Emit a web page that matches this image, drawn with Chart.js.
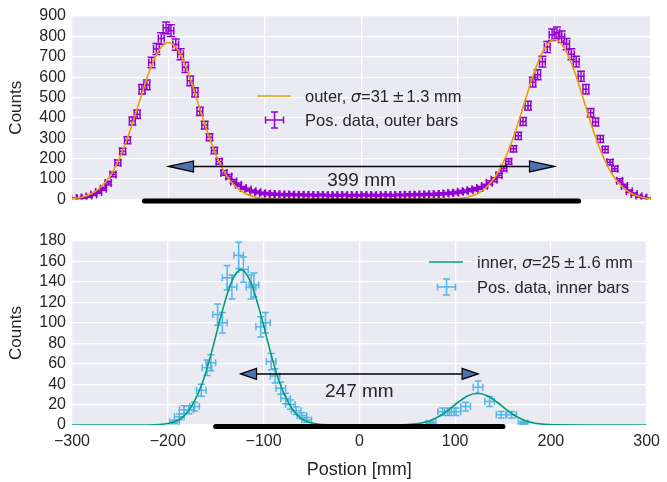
<!DOCTYPE html>
<html>
<head>
<meta charset="utf-8">
<script src="https://cdn.jsdelivr.net/npm/chart.js@4.4.1/dist/chart.umd.min.js"></script>
<style>
  body { margin: 0; background: #fff; }
  canvas { position: absolute; left: 0; }
  #chart-outer { top: 0; }
  #chart-inner { top: 225px; }
</style>
</head>
<body>
<canvas id="chart-outer" width="667" height="215"></canvas>
<canvas id="chart-inner" width="667" height="257"></canvas>
<script>
// ---- data ----
const outerPos = [
  -297.5, -292.5, -287.5, -282.5, -277.5, -272.5, -267.5, -262.5, -257.5, -252.5,
  -247.5, -242.5, -237.5, -232.5, -227.5, -222.5, -217.5, -212.5, -207.5, -202.5,
  -197.5, -192.5, -187.5, -182.5, -177.5, -172.5, -167.5, -162.5, -157.5, -152.5,
  -147.5, -142.5, -137.5, -132.5, -127.5, -122.5, -117.5, -112.5, -107.5, -102.5,
  -97.5, -92.5, -87.5, -82.5, -77.5, -72.5, -67.5, -62.5, -57.5, -52.5,
  -47.5, -42.5, -37.5, -32.5, -27.5, -22.5, -17.5, -12.5, -7.5, -2.5,
  2.5, 7.5, 12.5, 17.5, 22.5, 27.5, 32.5, 37.5, 42.5, 47.5,
  52.5, 57.5, 62.5, 67.5, 72.5, 77.5, 82.5, 87.5, 92.5, 97.5,
  102.5, 107.5, 112.5, 117.5, 122.5, 127.5, 132.5, 137.5, 142.5, 147.5,
  152.5, 157.5, 162.5, 167.5, 172.5, 177.5, 182.5, 187.5, 192.5, 197.5,
  202.5, 207.5, 212.5, 217.5, 222.5, 227.5, 232.5, 237.5, 242.5, 247.5,
  252.5, 257.5, 262.5, 267.5, 272.5, 277.5, 282.5, 287.5, 292.5, 297.5,
];
const outerCounts = [
  5, 6, 9, 14, 24, 36, 52, 80, 122, 180,
  236, 290, 385, 418, 540, 562, 672, 738, 790, 842,
  828, 760, 712, 648, 582, 525, 432, 365, 305, 240,
  186, 130, 112, 88, 72, 56, 48, 40, 35, 30,
  28, 26, 25, 24, 23, 24, 22, 23, 21, 22,
  20, 22, 21, 19, 21, 20, 22, 19, 21, 20,
  22, 20, 21, 19, 22, 21, 20, 22, 21, 23,
  22, 24, 23, 25, 24, 26, 27, 29, 31, 33,
  37, 40, 45, 50, 56, 66, 82, 96, 118, 152,
  186, 248, 312, 382, 460, 575, 612, 676, 748, 808,
  818, 798, 762, 712, 676, 604, 540, 425, 380, 296,
  245, 182, 150, 92, 66, 40, 26, 15, 9, 5,
];
const outerFitPos = [
  -300, -290, -280, -270, -260, -250, -240, -230, -220, -210,
  -200, -190, -180, -170, -160, -150, -140, -130, -120, -110,
  -100, -90, -80, -40, 0, 40, 80, 90, 100, 110,
  120, 130, 140, 150, 160, 170, 180, 190, 200, 210,
  220, 230, 240, 250, 260, 270, 280, 290, 300,
];
const outerFitCounts = [
  4, 11, 28, 61, 118, 210, 335, 482, 626, 731,
  770, 731, 626, 482, 335, 210, 118, 61, 28, 11,
  4, 1, 0, 0, 0, 0, 0, 1, 4, 11,
  28, 62, 121, 214, 341, 491, 637, 745, 785, 745,
  637, 491, 341, 214, 121, 62, 28, 11, 4,
];

const innerPos = [
  -193, -188, -183, -178, -172, -165, -159, -155, -148, -143,
  -138, -133, -126, -121, -113, -110, -103, -98, -92, -88,
  -82, -77, -72, -66, -60, -55,
  75, 87, 94, 101, 111, 124, 136, 148, 159, 171,
];
const innerCounts = [
  3, 8, 15, 15, 18, 34, 56, 61, 108, 100,
  144, 135, 166, 152, 135, 137, 96, 100, 62, 48,
  36, 26, 20, 14, 9, 5,
  2, 13, 13, 13, 18, 37, 23, 10, 10, 2,
];
const innerFitPos = [
  -300, -250, -213.5, -203.5, -193.5, -183.5, -173.5, -163.5, -153.5, -143.5,
  -133.5, -123.5, -113.5, -103.5, -93.5, -83.5, -73.5, -63.5, -53.5, -43.5,
  -33.5, 0, 33.5, 43.5, 53.5, 63.5, 73.5, 83.5, 93.5, 103.5,
  113.5, 123.5, 133.5, 143.5, 153.5, 163.5, 173.5, 183.5, 193.5, 203.5,
  250, 300,
];
const innerFitCounts = [
  0, 0, 0.3, 1, 3, 8.5, 21, 42, 74, 110,
  140, 152, 140, 110, 74, 42, 21, 8.5, 3, 1,
  0.3, 0, 0, 0.2, 0.6, 1.7, 4.2, 8.6, 15, 22.5,
  28.6, 31, 28.6, 22.5, 15, 8.6, 4.2, 1.7, 0.6, 0.2,
  0, 0,
];

const outerTicks = [0, 100, 200, 300, 400, 500, 600, 700, 800, 900];
const innerTicks = [0, 20, 40, 60, 80, 100, 120, 140, 160, 180];

const textColor = "#262626";
const font = "Liberation Sans, Arial, sans-serif";

const toPoints = (xs, ys) => xs.map((x, i) => ({ x: x, y: ys[i] }));
const minusFmt = (v) => (v < 0 ? "\u2212" + Math.abs(v) : String(v));

// background of the axes
const axesBg = {
  id: "axesBg",
  beforeDraw(chart) {
    const { ctx, chartArea: a } = chart;
    ctx.save();
    ctx.fillStyle = "#eaeaf2";
    ctx.fillRect(a.left, a.top, a.right - a.left, a.bottom - a.top);
    ctx.restore();
  },
};

// error bars for the data set, poisson errors sqrt(N)
const errorBars = {
  id: "errorBars",
  beforeDatasetsDraw(chart, args, opts) {
    const ds = chart.data.datasets[opts.index];
    const xs = chart.scales.x;
    const ys = chart.scales.y;
    const { ctx, chartArea: a } = chart;
    ctx.save();
    ctx.beginPath();
    ctx.rect(a.left, a.top, a.right - a.left, a.bottom - a.top);
    ctx.clip();
    ctx.strokeStyle = opts.color;
    ctx.lineWidth = 1.5;
    const cap = opts.cap;
    ds.data.forEach((p) => {
      const e = Math.sqrt(p.y);
      const cx = xs.getPixelForValue(p.x);
      const cy = ys.getPixelForValue(p.y);
      const x0 = xs.getPixelForValue(p.x - opts.xerr);
      const x1 = xs.getPixelForValue(p.x + opts.xerr);
      const y0 = ys.getPixelForValue(p.y - e);
      const y1 = ys.getPixelForValue(p.y + e);
      ctx.beginPath();
      ctx.moveTo(cx, y0); ctx.lineTo(cx, y1);
      ctx.moveTo(cx - cap, y0); ctx.lineTo(cx + cap, y0);
      ctx.moveTo(cx - cap, y1); ctx.lineTo(cx + cap, y1);
      ctx.moveTo(x0, cy); ctx.lineTo(x1, cy);
      ctx.moveTo(x0, cy - cap); ctx.lineTo(x0, cy + cap);
      ctx.moveTo(x1, cy - cap); ctx.lineTo(x1, cy + cap);
      ctx.stroke();
    });
    ctx.restore();
  },
};

function drawHead(ctx, tipX, y, dir, len, half) {
  ctx.beginPath();
  ctx.moveTo(tipX, y);
  ctx.lineTo(tipX + dir * len, y - half);
  ctx.lineTo(tipX + dir * len, y + half);
  ctx.closePath();
  ctx.fillStyle = "#4c72b0";
  ctx.fill();
  ctx.lineWidth = 1.2;
  ctx.strokeStyle = "#000";
  ctx.stroke();
}

function drawLegendLabel(ctx, x, y, parts) {
  let cx = x;
  parts.forEach((p) => {
    if (p.gap) { cx += p.gap; return; }
    ctx.font = p.font || "16.5px " + font;
    ctx.fillText(p.t, cx, y);
    cx += ctx.measureText(p.t).width;
  });
}

function drawErrMarker(ctx, cx, cy, color) {
  ctx.strokeStyle = color;
  ctx.lineWidth = 1.5;
  ctx.beginPath();
  ctx.moveTo(cx, cy - 8); ctx.lineTo(cx, cy + 8);
  ctx.moveTo(cx - 3.5, cy - 8); ctx.lineTo(cx + 3.5, cy - 8);
  ctx.moveTo(cx - 3.5, cy + 8); ctx.lineTo(cx + 3.5, cy + 8);
  ctx.moveTo(cx - 9, cy); ctx.lineTo(cx + 9, cy);
  ctx.moveTo(cx - 9, cy - 3.5); ctx.lineTo(cx - 9, cy + 3.5);
  ctx.moveTo(cx + 9, cy - 3.5); ctx.lineTo(cx + 9, cy + 3.5);
  ctx.stroke();
}

// arrows, black bar, text and legend
const annotations = {
  id: "annotations",
  afterDraw(chart, args, o) {
    const { ctx } = chart;
    const xs = chart.scales.x;
    const ys = chart.scales.y;
    ctx.save();
    // black bar
    ctx.strokeStyle = "#000";
    ctx.lineWidth = 5;
    ctx.lineCap = "round";
    ctx.beginPath();
    ctx.moveTo(xs.getPixelForValue(o.bar[0]), ys.getPixelForValue(0) + 1.5);
    ctx.lineTo(xs.getPixelForValue(o.bar[1]), ys.getPixelForValue(0) + 1.5);
    ctx.stroke();
    ctx.lineCap = "butt";
    // arrow
    const ay = ys.getPixelForValue(o.arrowY);
    const ax0 = xs.getPixelForValue(o.arrow[0]);
    const ax1 = xs.getPixelForValue(o.arrow[1]);
    ctx.lineWidth = 1.5;
    ctx.beginPath();
    ctx.moveTo(ax0 + o.headLen, ay);
    ctx.lineTo(ax1 - o.headLen, ay);
    ctx.stroke();
    drawHead(ctx, ax0, ay, 1, o.headLen, o.headHalf);
    drawHead(ctx, ax1, ay, -1, o.headLen, o.headHalf);
    // distance text
    ctx.fillStyle = textColor;
    ctx.font = "19px " + font;
    ctx.textAlign = "center";
    ctx.textBaseline = "alphabetic";
    ctx.fillText(o.label, xs.getPixelForValue(0), ys.getPixelForValue(o.labelY));
    // legend
    ctx.textAlign = "left";
    const L = o.legend;
    ctx.strokeStyle = L.lineColor;
    ctx.lineWidth = 1.5;
    ctx.beginPath();
    ctx.moveTo(L.x, L.y1);
    ctx.lineTo(L.x + 34, L.y1);
    ctx.stroke();
    drawErrMarker(ctx, L.x + 17.5, L.y2, L.markColor);
    ctx.fillStyle = textColor;
    drawLegendLabel(ctx, L.x + 48, L.y1 + 6, [
      { t: L.name + ", " },
      { t: "\u03c3", font: "italic 16px DejaVu Sans" },
      { t: "=" + L.sigma },
      { gap: 3 },
      { t: "\u00b1", font: "15px DejaVu Sans" },
      { gap: 2 },
      { t: L.err + " mm" },
    ]);
    drawLegendLabel(ctx, L.x + 48, L.y2 + 6, [{ t: L.dataLabel }]);
    ctx.restore();
  },
};

function makeScales(yMax, yStep, showX) {
  return {
    x: {
      type: "linear",
      min: -300,
      max: 300,
      border: { display: false },
      grid: { color: "#ffffff", lineWidth: 1.2, drawTicks: false },
      ticks: {
        display: showX,
        stepSize: 100,
        autoSkip: false,
        padding: 7,
        color: textColor,
        font: { family: font, size: 16 },
        callback: minusFmt,
      },
      title: {
        display: showX,
        text: "Postion [mm]",
        color: textColor,
        font: { family: font, size: 18 },
        padding: { top: 0, bottom: 1 },
      },
      afterFit(scale) { scale.height = showX ? 57 : 14; },
    },
    y: {
      min: 0,
      max: yMax,
      border: { display: false },
      grid: { color: "#ffffff", lineWidth: 1.2, drawTicks: false },
      ticks: {
        stepSize: yStep,
        autoSkip: false,
        padding: 6,
        color: textColor,
        font: { family: font, size: 16 },
      },
      title: {
        display: true,
        text: "Counts",
        color: textColor,
        font: { family: font, size: 17 },
        padding: { top: 6, bottom: 0 },
      },
      afterFit(scale) { scale.width = 72; },
    },
  };
}

const chartOuter = new Chart(document.querySelector("#chart-outer"), {
  type: "scatter",
  data: {
    datasets: [
      {
        label: "outer fit",
        data: toPoints(outerFitPos, outerFitCounts),
        showLine: true,
        borderColor: "#e69f00",
        borderWidth: 1.6,
        pointRadius: 0,
        cubicInterpolationMode: "monotone",
      },
      {
        label: "Pos. data, outer bars",
        data: toPoints(outerPos, outerCounts),
        pointRadius: 0,
        showLine: false,
      },
    ],
  },
  options: {
    responsive: false,
    animation: false,
    layout: { padding: { top: 16, right: 16, left: 0, bottom: 0 } },
    scales: makeScales(outerTicks[outerTicks.length - 1], 100, false),
    plugins: {
      legend: { display: false },
      tooltip: { enabled: false },
      errorBars: { index: 1, color: "#9400d3", xerr: 3, cap: 4 },
      annotations: {
        bar: [-225, 225],
        arrow: [-200, 200],
        arrowY: 162,
        headLen: 25,
        headHalf: 5.5,
        label: "399 mm",
        labelY: 64,
        legend: {
          x: 257, y1: 96, y2: 120,
          lineColor: "#e69f00", markColor: "#9400d3",
          name: "outer", sigma: "31", err: "1.3",
          dataLabel: "Pos. data, outer bars",
        },
      },
    },
  },
  plugins: [axesBg, errorBars, annotations],
});

const chartInner = new Chart(document.querySelector("#chart-inner"), {
  type: "scatter",
  data: {
    datasets: [
      {
        label: "inner fit",
        data: toPoints(innerFitPos, innerFitCounts),
        showLine: true,
        borderColor: "#009e73",
        borderWidth: 1.6,
        pointRadius: 0,
        cubicInterpolationMode: "monotone",
      },
      {
        label: "Pos. data, inner bars",
        data: toPoints(innerPos, innerCounts),
        pointRadius: 0,
        showLine: false,
      },
    ],
  },
  options: {
    responsive: false,
    animation: false,
    layout: { padding: { top: 16, right: 16, left: 0, bottom: 0 } },
    scales: makeScales(innerTicks[innerTicks.length - 1], 20, true),
    plugins: {
      legend: { display: false },
      tooltip: { enabled: false },
      errorBars: { index: 1, color: "#56b4e9", xerr: 5, cap: 3.5 },
      annotations: {
        bar: [-150, 150],
        arrow: [-124, 124],
        arrowY: 50,
        headLen: 16,
        headHalf: 5.5,
        label: "247 mm",
        labelY: 27,
        legend: {
          x: 429, y1: 37, y2: 62,
          lineColor: "#009e73", markColor: "#56b4e9",
          name: "inner", sigma: "25", err: "1.6",
          dataLabel: "Pos. data, inner bars",
        },
      },
    },
  },
  plugins: [axesBg, errorBars, annotations],
});
</script>
</body>
</html>
